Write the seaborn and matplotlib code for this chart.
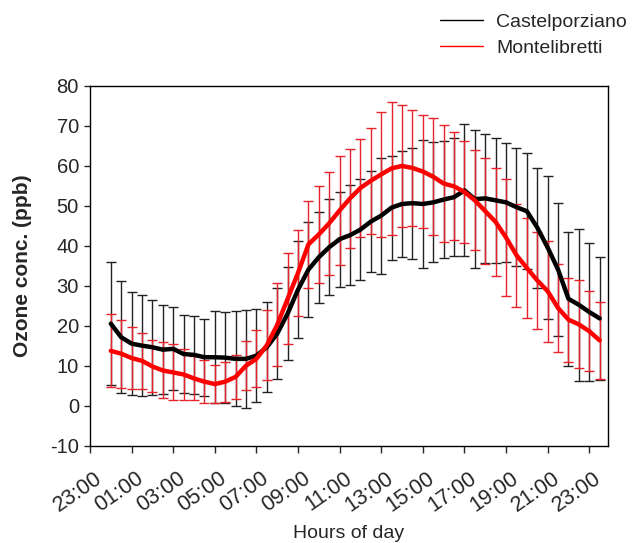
import numpy as np
import pandas as pd
import matplotlib.pyplot as plt
import seaborn as sns
from matplotlib.lines import Line2D
from matplotlib.transforms import ScaledTranslation

# half-hourly sampling times
times = ["00:00", "00:30", "01:00", "01:30", "02:00", "02:30", "03:00", "03:30",
         "04:00", "04:30", "05:00", "05:30", "06:00", "06:30", "07:00", "07:30",
         "08:00", "08:30", "09:00", "09:30", "10:00", "10:30", "11:00", "11:30",
         "12:00", "12:30", "13:00", "13:30", "14:00", "14:30", "15:00", "15:30",
         "16:00", "16:30", "17:00", "17:30", "18:00", "18:30", "19:00", "19:30",
         "20:00", "20:30", "21:00", "21:30", "22:00", "22:30", "23:00", "23:30"]

# Castelporziano: mean and standard deviation (ppb)
castel_mean = [20.5, 17.1, 15.5, 15.0, 14.6, 14.0, 14.2, 12.9, 12.7, 12.1,
               12.1, 12.0, 11.7, 11.7, 12.5, 14.6, 18.0, 23.0, 29.0, 34.0,
               37.1, 39.6, 41.6, 42.6, 44.0, 46.0, 47.5, 49.5, 50.4, 50.6,
               50.4, 50.8, 51.5, 52.1, 53.8, 51.6, 51.8, 51.3, 50.8, 49.6,
               48.6, 44.5, 39.5, 34.0, 26.7, 25.2, 23.4, 21.8]
castel_sd = [15.4, 14.0, 12.9, 12.6, 11.9, 11.2, 10.4, 9.8, 9.7, 9.6,
             11.5, 11.4, 11.9, 12.3, 11.7, 11.3, 11.4, 11.7, 12.2, 11.8,
             11.4, 12.0, 11.9, 12.5, 12.7, 12.7, 14.5, 13.0, 13.2, 13.9,
             16.0, 15.0, 14.7, 14.7, 16.5, 17.3, 16.2, 15.7, 14.9, 14.7,
             14.5, 15.0, 17.9, 16.7, 16.8, 19.0, 17.2, 15.4]

# Montelibretti: mean and standard deviation (ppb)
monte_mean = [13.7, 13.0, 11.9, 11.2, 9.8, 8.8, 8.3, 7.8, 6.8, 6.0,
              5.4, 6.0, 7.2, 10.0, 11.7, 15.1, 20.2, 26.7, 33.2, 40.3,
              42.8, 45.6, 48.8, 51.8, 54.4, 56.2, 57.8, 59.3, 59.9, 59.4,
              58.5, 57.2, 55.5, 54.8, 53.4, 51.3, 48.6, 45.9, 42.0, 37.6,
              34.4, 31.3, 28.6, 24.4, 21.5, 20.3, 18.6, 16.3]
monte_sd = [9.1, 8.5, 7.7, 7.0, 6.5, 7.0, 7.0, 6.4, 5.5, 5.3,
            4.8, 5.0, 5.5, 6.2, 7.1, 8.7, 10.4, 11.4, 10.7, 10.9,
            12.1, 12.9, 13.6, 12.4, 12.3, 13.3, 15.7, 16.7, 15.3, 14.6,
            14.2, 14.6, 14.6, 13.5, 12.8, 12.5, 13.3, 13.4, 14.6, 12.9,
            12.5, 12.1, 12.6, 10.9, 10.5, 11.0, 10.0, 9.6]

sites = ["Castelporziano", "Montelibretti"]
tick_hours = [-1, 1, 3, 5, 7, 9, 11, 13, 15, 17, 19, 21, 23]
tick_labels = ["23:00", "01:00", "03:00", "05:00", "07:00", "09:00", "11:00",
               "13:00", "15:00", "17:00", "19:00", "21:00", "23:00"]

sns.set_theme(style="white")
plt.rcParams['font.family'] = ['Liberation Sans', 'DejaVu Sans']
plt.rcParams['axes.unicode_minus'] = False

hours = [int(t[:2]) + int(t[3:]) / 60 for t in times]
df = pd.concat([
    pd.DataFrame({"hour": hours, "ozone": castel_mean, "sd": castel_sd, "site": sites[0]}),
    pd.DataFrame({"hour": hours, "ozone": monte_mean, "sd": monte_sd, "site": sites[1]}),
])

line_colors = {"Castelporziano": "#000000", "Montelibretti": "#ff0000"}
bar_colors = {"Castelporziano": "#222222", "Montelibretti": "#e8222a"}

fig = plt.figure(figsize=(6.33, 5.43), dpi=100)
ax = fig.add_axes([90 / 633, 1 - 445.7 / 543, 518 / 633, 360.2 / 543])

# error bars (+/- 1 sd)
for site, g in df.groupby("site"):
    ax.errorbar(g["hour"], g["ozone"], yerr=g["sd"], fmt="none",
                ecolor=bar_colors[site], elinewidth=1, capsize=3.8, capthick=1, zorder=2)

sns.lineplot(data=df, x="hour", y="ozone", hue="site", palette=line_colors,
             linewidth=3.2, legend=False, errorbar=None, ax=ax, zorder=3)

ax.set_xlim(-1, 23.9)
ax.set_ylim(-10, 80)
ax.set_yticks(range(-10, 81, 10))
ax.set_xticks(tick_hours)
ax.tick_params(axis="y", labelsize=14.5, length=4, width=1, direction="out", left=True, pad=4)
ax.tick_params(axis="x", length=5, width=1, direction="out", bottom=True, pad=4)
ax.set_xticklabels(tick_labels, rotation=35, ha="right", va="center",
                   rotation_mode="anchor", fontsize=15.5)
# push rotated labels down/right like the original (after tick_params, which resets transforms)
offset = ScaledTranslation(0.10, -0.18, fig.dpi_scale_trans)
for lbl in ax.get_xticklabels():
    lbl.set_transform(lbl.get_transform() + offset)

for sp in ax.spines.values():
    sp.set_color("black")
    sp.set_linewidth(1)

ax.set_ylabel("Ozone conc. (ppb)", fontsize=15, fontweight="bold")
ax.yaxis.set_label_coords(-0.112, 0.5)
ax.set_xlabel("Hours of day", fontsize=14)
ax.xaxis.set_label_coords(0.5, -0.22)

handles = [Line2D([], [], color=line_colors[s], lw=1) for s in sites]
fig.legend(handles=handles, labels=sites, loc="upper left",
           bbox_to_anchor=(440 / 633, 1 - 13 / 543), frameon=False, fontsize=14,
           handlelength=2.2, handletextpad=0.7, labelspacing=0.45,
           borderpad=0, borderaxespad=0)

fig.savefig("out.png", dpi=100)
